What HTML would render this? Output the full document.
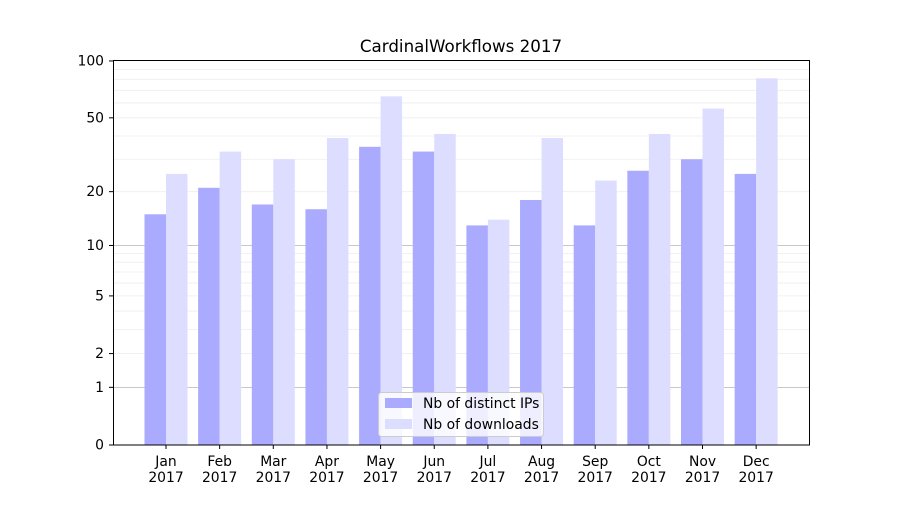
<!DOCTYPE html>
<html><head><meta charset="utf-8"><style>body{margin:0;background:#fff}svg text{font-family:"DejaVu Sans","Liberation Sans",sans-serif;font-size:13.9px;fill:#000}</style></head>
<body>
<svg width="900" height="500" viewBox="0 0 900 500" xmlns="http://www.w3.org/2000/svg">
<rect width="900" height="500" fill="#fff"/>
<g id="grid" stroke="#eeeeee" stroke-width="0.8"></g>
<line x1="113" x2="810" y1="245.5" y2="245.5" stroke="#c8c8c8"/>
<line x1="113" x2="810" y1="387.5" y2="387.5" stroke="#c8c8c8"/>
<g id="bars"></g>
<rect x="113.5" y="60.5" width="696" height="384.5" fill="none" stroke="#000"/>
<g id="ticks"></g>
<text x="461" y="52" text-anchor="middle" style="font-size:16.7px">CardinalWorkflows 2017</text>
<rect x="378.5" y="392.5" width="165" height="44" rx="3" fill="#fff" fill-opacity="0.8" stroke="#ccc"/>
<rect x="385" y="398" width="27" height="10" fill="#aaaaff"/>
<text x="423" y="408">Nb of distinct IPs</text>
<rect x="385" y="419" width="27" height="10" fill="#ddddff"/>
<text x="423" y="429">Nb of downloads</text>
<script>
var ns="http://www.w3.org/2000/svg";
function Y(v){return 445-191.6*Math.log10(1+v);}
function el(p,t,a,txt){var e=document.createElementNS(ns,t);for(var k in a)e.setAttribute(k,a[k]);if(txt!==undefined)e.textContent=txt;document.getElementById(p).appendChild(e);}
[3,4,6,7,8,9,30,40,60,70,80,90,2,5,20,50].forEach(function(v){var y=Y(v);el("grid","line",{x1:113,x2:810,y1:y,y2:y});});
var ips=[15,21,17,16,35,33,13,18,13,26,30,25],dl=[25,33,30,39,65,41,14,39,23,41,56,81];
var m=["Jan","Feb","Mar","Apr","May","Jun","Jul","Aug","Sep","Oct","Nov","Dec"];
for(var i=0;i<12;i++){var c=166+i*53.65;
el("bars","rect",{x:c-21.5,y:Y(ips[i]),width:21.5,height:445-Y(ips[i]),fill:"#aaaaff"});
el("bars","rect",{x:c,y:Y(dl[i]),width:21.5,height:445-Y(dl[i]),fill:"#ddddff"});
el("ticks","line",{x1:c,x2:c,y1:445,y2:449,stroke:"#000"});
el("ticks","text",{x:c,y:466,"text-anchor":"middle"},m[i]);
el("ticks","text",{x:c,y:482,"text-anchor":"middle"},"2017");}
[0,1,2,5,10,20,50,100].forEach(function(v){var y=Y(v);el("ticks","line",{x1:109,x2:113,y1:y,y2:y,stroke:"#000"});el("ticks","text",{x:104,y:y+4.5,"text-anchor":"end"},v);});
</script>
</svg>
</body></html>
